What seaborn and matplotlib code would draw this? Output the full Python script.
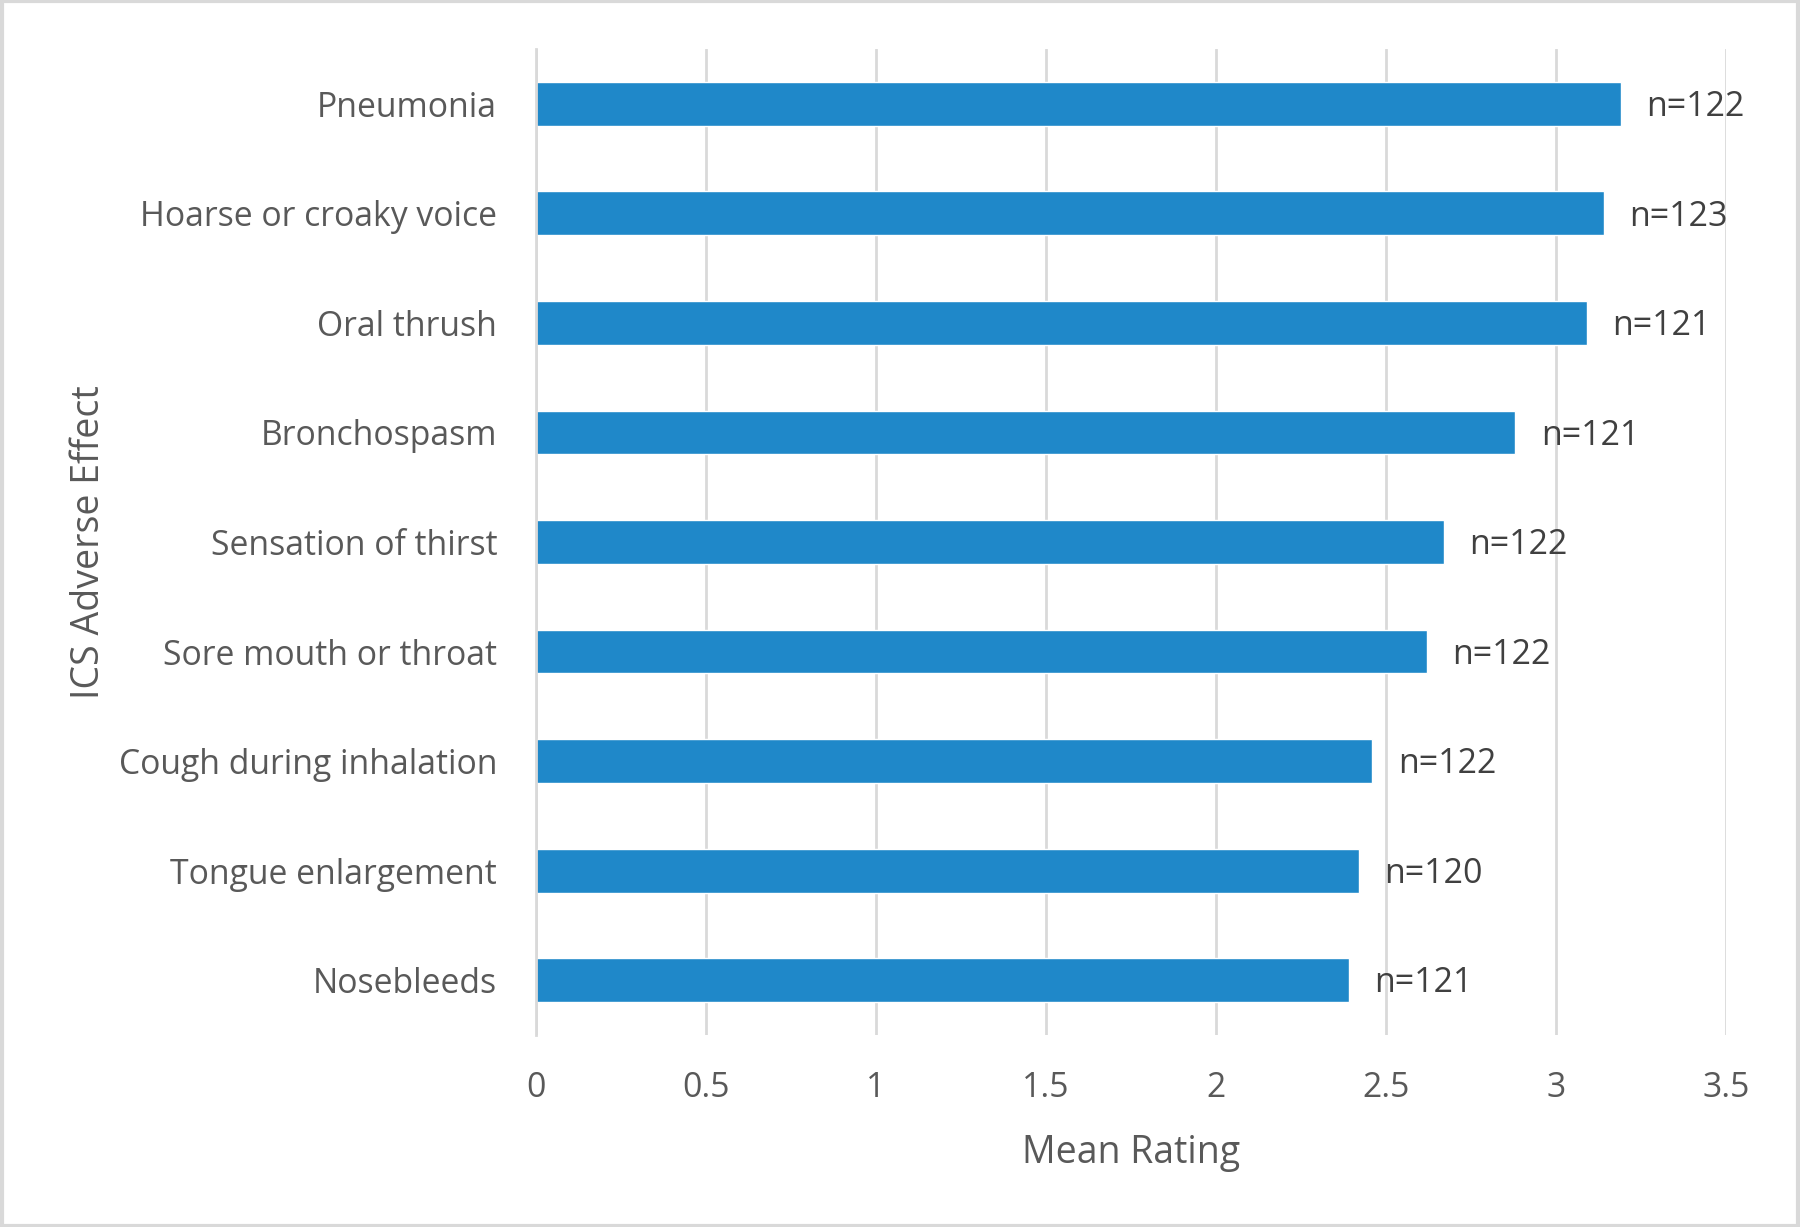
import matplotlib
matplotlib.use("Agg")
import matplotlib.pyplot as plt
import pandas as pd
import seaborn as sns
from matplotlib.patches import Rectangle

effects = ["Pneumonia", "Hoarse or croaky voice", "Oral thrush", "Bronchospasm",
           "Sensation of thirst", "Sore mouth or throat", "Cough during inhalation",
           "Tongue enlargement", "Nosebleeds"]
mean_rating = [3.19, 3.14, 3.09, 2.88, 2.67, 2.62, 2.46, 2.42, 2.39]
n_resp = [122, 123, 121, 121, 122, 122, 122, 120, 121]

df = pd.DataFrame({"Effect": effects, "Mean": mean_rating, "n": n_resp})

sns.set_style("white")
plt.rcParams["font.family"] = ["Open Sans", "DejaVu Sans"]

fig = plt.figure(figsize=(18, 12.27), dpi=100)
ax = fig.add_axes([0.2978, 0.1565, 0.6611, 0.8035])

sns.barplot(data=df, y="Effect", x="Mean", orient="h", color="#1f88c9",
            saturation=1, width=0.4, ax=ax)

for i, (v, n) in enumerate(zip(mean_rating, n_resp)):
    ax.text(v + 0.075, i + 0.03, f"n={n}", va="center", ha="left",
            fontsize=24.5, color="#404040")

ax.set_xlim(0, 3.5)
ax.set_ylim(8.5, -0.5)
ax.set_xticks([0, 0.5, 1, 1.5, 2, 2.5, 3, 3.5])
ax.set_xticklabels(["0", "0.5", "1", "1.5", "2", "2.5", "3", "3.5"])
ax.xaxis.grid(True, color="#d9d9d9", linewidth=2)
ax.yaxis.grid(False)
ax.set_axisbelow(True)
for s in ["top", "right", "bottom"]:
    ax.spines[s].set_visible(False)
ax.spines["left"].set_color("#d9d9d9")
ax.spines["left"].set_linewidth(2)

ax.tick_params(axis="y", length=0, pad=28, labelsize=24.3, labelcolor="#595959")
ax.tick_params(axis="x", length=0, pad=26, labelsize=24.3, labelcolor="#595959")
ax.set_xlabel("Mean Rating", fontsize=27, color="#595959", labelpad=21)
ax.set_ylabel("ICS Adverse Effect", fontsize=27, color="#595959", labelpad=8)

fig.patches.append(Rectangle((0.001, 0.001), 0.998, 0.998, transform=fig.transFigure,
                             fill=False, edgecolor="#d9d9d9", linewidth=3))

fig.savefig("out.png", dpi=100, facecolor="white")
